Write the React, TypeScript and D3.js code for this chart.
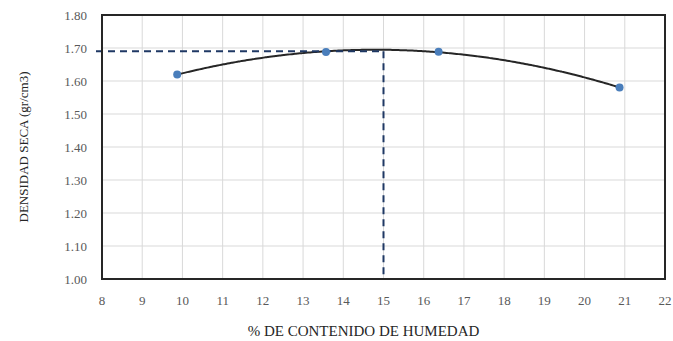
import React from "react";
import * as d3 from "d3";

const humedad = [9.87, 13.57, 16.37, 20.87];
const densidad = [1.62, 1.688, 1.689, 1.58];
const xTicks = [8, 9, 10, 11, 12, 13, 14, 15, 16, 17, 18, 19, 20, 21, 22];
const yTicks = [1.0, 1.1, 1.2, 1.3, 1.4, 1.5, 1.6, 1.7, 1.8];
const optHumedad = [15];
const maxDensidad = [1.69];

function quadFit(xs: number[], ys: number[]) {
  let s0 = 0, s1 = 0, s2 = 0, s3 = 0, s4 = 0, t0 = 0, t1 = 0, t2 = 0;
  xs.forEach((x, i) => {
    const y = ys[i];
    s0 += 1; s1 += x; s2 += x * x; s3 += x ** 3; s4 += x ** 4;
    t0 += y; t1 += x * y; t2 += x * x * y;
  });
  const M = [[s0, s1, s2, t0], [s1, s2, s3, t1], [s2, s3, s4, t2]];
  for (let i = 0; i < 3; i++) {
    for (let j = i + 1; j < 3; j++) {
      const f = M[j][i] / M[i][i];
      for (let k = i; k < 4; k++) M[j][k] -= f * M[i][k];
    }
  }
  const r = [0, 0, 0];
  for (let i = 2; i >= 0; i--) {
    let s = M[i][3];
    for (let k = i + 1; k < 3; k++) s -= M[i][k] * r[k];
    r[i] = s / M[i][i];
  }
  return (x: number) => r[0] + r[1] * x + r[2] * x * x;
}

export default function App() {
  const W = 673, H = 341;
  const left = 102, right = 665, top = 15, bottom = 279;
  const x = d3.scaleLinear().domain([8, 22]).range([left, right]);
  const y = d3.scaleLinear().domain([1.0, 1.8]).range([bottom, top]);
  const f = quadFit(humedad, densidad);
  const xs = d3.range(humedad[0], humedad[humedad.length - 1] + 0.001, 0.05);
  const line = d3.line<number>().x((d) => x(d)).y((d) => y(f(d))).curve(d3.curveMonotoneX);
  const font = "'Liberation Serif', 'DejaVu Serif', serif";
  const grey = "#595959";
  return (
    <svg width={W} height={H} style={{ position: "absolute", left: 0, top: 0 }} fontFamily={font}>
      <rect width={W} height={H} fill="#fff" />
      {xTicks.map((t) => (
        <line key={"gx" + t} x1={x(t)} x2={x(t)} y1={top} y2={bottom} stroke="#d9d9d9" strokeWidth={1} />
      ))}
      {yTicks.map((t) => (
        <line key={"gy" + t} x1={left} x2={right} y1={y(t)} y2={y(t)} stroke="#d9d9d9" strokeWidth={1} />
      ))}
      <path d={line(xs) || ""} fill="none" stroke="#262626" strokeWidth={2} />
      <line x1={x(8) - 6} x2={x(optHumedad[0])} y1={y(maxDensidad[0])} y2={y(maxDensidad[0])} stroke="#1f3864" strokeWidth={2} strokeDasharray="7,5" />
      <line x1={x(optHumedad[0])} x2={x(optHumedad[0])} y1={y(maxDensidad[0])} y2={bottom} stroke="#1f3864" strokeWidth={2} strokeDasharray="7,5" />
      <rect x={left} y={top} width={right - left} height={bottom - top} fill="none" stroke="#262626" strokeWidth={2} />
      {humedad.map((h, i) => (
        <circle key={"p" + i} cx={x(h)} cy={y(densidad[i])} r={4} fill="#4a7ebb" />
      ))}
      {yTicks.map((t) => (
        <text key={"ty" + t} x={87} y={y(t)} dy="0.35em" textAnchor="end" fontSize={13} fill={grey}>
          {t.toFixed(2)}
        </text>
      ))}
      {xTicks.map((t) => (
        <text key={"tx" + t} x={x(t)} y={300} dy="0.35em" textAnchor="middle" fontSize={13} fill={grey}>
          {t}
        </text>
      ))}
      <text x={(left + right) / 2 - 20} y={336} textAnchor="middle" fontSize={15} fill="#262626">
        % DE CONTENIDO DE HUMEDAD
      </text>
      <text transform={`translate(28,147) rotate(-90)`} textAnchor="middle" fontSize={13} fill="#262626">
        DENSIDAD SECA (gr/cm3)
      </text>
    </svg>
  );
}
